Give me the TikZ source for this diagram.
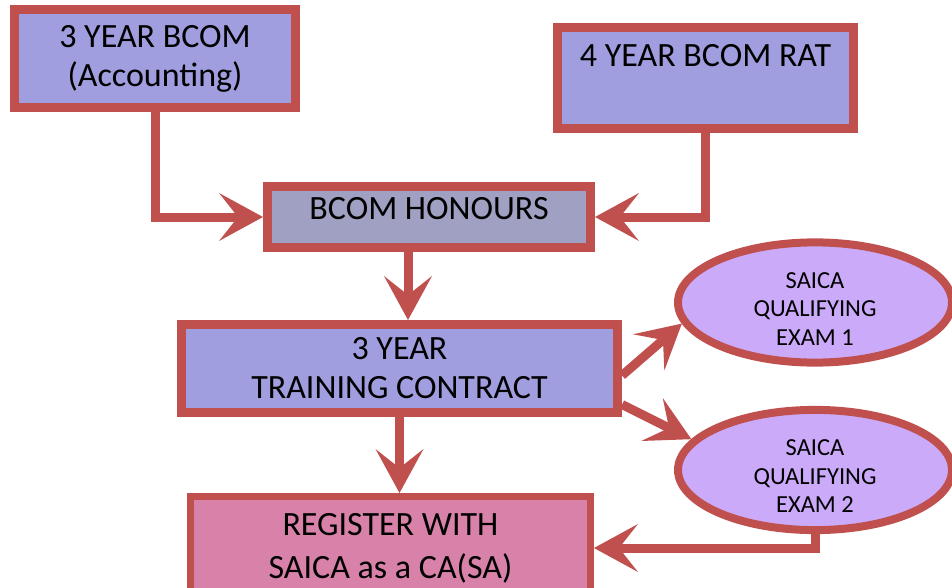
\documentclass[tikz,border=0pt]{standalone}
\usepackage{fontspec}
\setmainfont{Carlito}
\usetikzlibrary{shapes,arrows.meta,positioning,calc}
\definecolor{arrowred}{RGB}{192,80,77}
\definecolor{bcomfill}{RGB}{160,158,222}
\definecolor{honsfill}{RGB}{160,160,194}
\definecolor{regfill}{RGB}{216,130,170}
\definecolor{examfill}{RGB}{204,170,250}

\begin{document}
\begin{tikzpicture}[x=1pt,y=-1pt]
  \tikzstyle{box}=[rectangle, draw=arrowred, line width=9pt, align=center, inner sep=0pt, font=\fontsize{34pt}{39pt}\selectfont]
  \tikzstyle{exam}=[ellipse, draw=arrowred, line width=8pt, fill=examfill, align=center, inner sep=0pt, minimum width=274pt, minimum height=114pt, font=\fontsize{24.5pt}{28.5pt}\selectfont]
  \tikzstyle{flow}=[draw=arrowred, line width=9pt, -{Stealth[length=44pt, width=48pt, inset=19pt, line width=0pt]}]

  \useasboundingbox (0,0) rectangle (952,588);
  \clip (0,0) rectangle (952,588);

  \node[box, fill=bcomfill, minimum width=281pt, minimum height=98pt] (acc) at (155,58.5) {3 YEAR BCOM\\(Accounting)};
  \node[box, fill=bcomfill, minimum width=296pt, minimum height=101pt] (rat) at (705.5,78) {4 YEAR BCOM RAT\\[6pt]~};
  \node[box, fill=honsfill, minimum width=323pt, minimum height=61pt, text depth=18pt] (hons) at (429,217) {BCOM HONOURS};
  \node[box, fill=bcomfill, minimum width=436pt, minimum height=88pt] (train) at (399.5,368.5) {3 YEAR\\TRAINING CONTRACT};
  \node[box, fill=regfill, line width=7pt, minimum width=400pt, minimum height=103pt, font=\fontsize{34pt}{43pt}\selectfont] (reg) at (390.5,548) {REGISTER WITH\\SAICA as a CA(SA)};
  \node[exam] (q1) at (815,302.5) {\rule{0pt}{28pt}SAICA\\QUALIFYING\\EXAM 1};
  \node[exam] (q2) at (815,470) {\rule{0pt}{28pt}SAICA\\QUALIFYING\\EXAM 2};

  \draw[flow] (acc.south) |- (hons.west);
  \draw[flow] (rat.south) |- (hons.east);
  \draw[flow] ([xshift=-21pt]hons.south) -- ++(0,68);
  \draw[flow] (train.south) -- (train.south |- reg.north);
  \draw[flow] ([yshift=-7pt]train.east) -- (q1.189);
  \draw[flow] ([yshift=-36pt]train.east) -- (q2.166);
  \draw[flow] (q2.south) |- (reg.east);
\end{tikzpicture}
\end{document}
